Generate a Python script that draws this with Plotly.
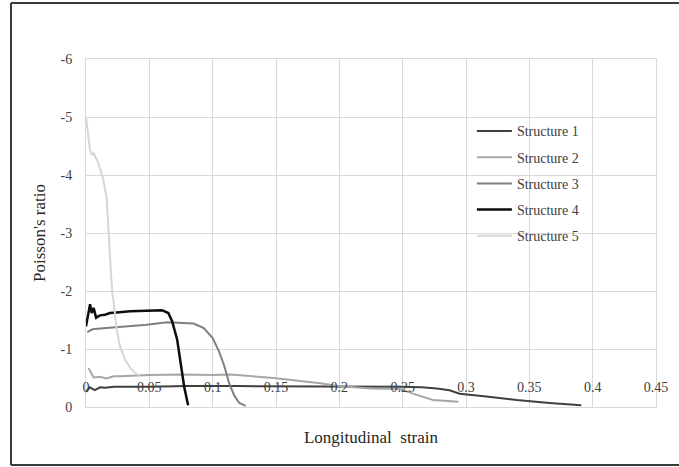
import plotly.graph_objects as go

# ---- data ----
s1_x = [0.0, 0.003, 0.007, 0.011, 0.015, 0.022, 0.05, 0.08, 0.12, 0.16, 0.2, 0.248, 0.265, 0.277, 0.287, 0.295, 0.316, 0.34, 0.366, 0.391]
s1_y = [-0.26, -0.34, -0.29, -0.34, -0.33, -0.35, -0.35, -0.36, -0.36, -0.36, -0.36, -0.35, -0.34, -0.32, -0.29, -0.23, -0.18, -0.12, -0.07, -0.03]

s2_x = [0.002, 0.006, 0.011, 0.016, 0.022, 0.027, 0.05, 0.075, 0.1, 0.114, 0.148, 0.185, 0.2, 0.224, 0.248, 0.258, 0.274, 0.294]
s2_y = [-0.67, -0.51, -0.52, -0.49, -0.53, -0.53, -0.55, -0.56, -0.55, -0.56, -0.5, -0.41, -0.36, -0.32, -0.31, -0.23, -0.12, -0.09]

s3_x = [0.001, 0.005, 0.016, 0.035, 0.048, 0.064, 0.075, 0.085, 0.093, 0.1, 0.105, 0.109, 0.113, 0.117, 0.121, 0.126]
s3_y = [-1.29, -1.34, -1.36, -1.39, -1.42, -1.46, -1.45, -1.44, -1.36, -1.19, -0.96, -0.72, -0.41, -0.2, -0.07, -0.02]

s4_x = [0.0, 0.0032, 0.0045, 0.006, 0.008, 0.011, 0.015, 0.019, 0.024, 0.035, 0.048, 0.06, 0.065, 0.068, 0.072, 0.075, 0.0775, 0.0806]
s4_y = [-1.39, -1.77, -1.62, -1.71, -1.54, -1.58, -1.59, -1.62, -1.63, -1.65, -1.66, -1.67, -1.62, -1.48, -1.16, -0.75, -0.35, -0.03]

s5_x = [0.0, 0.003, 0.0047, 0.006, 0.0095, 0.0134, 0.0163, 0.0176, 0.0197, 0.021, 0.0216, 0.0242, 0.0268, 0.031, 0.035, 0.039, 0.042]
s5_y = [-5.0, -4.45, -4.34, -4.38, -4.22, -3.95, -3.6, -3.02, -2.32, -1.9, -1.86, -1.34, -1.05, -0.81, -0.67, -0.58, -0.55]

names = ["Structure 1", "Structure 2", "Structure 3", "Structure 4", "Structure 5"]
colors = ["#404040", "#a6a6a6", "#808080", "#0d0d0d", "#d6d6d6"]
widths = [2, 2, 2, 2.5, 2]

x_ticks = [0, 0.05, 0.1, 0.15, 0.2, 0.25, 0.3, 0.35, 0.4, 0.45]
x_tick_labels = ["0", "0.05", "0.1", "0.15", "0.2", "0.25", "0.3", "0.35", "0.4", "0.45"]
y_ticks = [0, -1, -2, -3, -4, -5, -6]
y_tick_labels = ["0", "-1", "-2", "-3", "-4", "-5", "-6"]

series = [(s1_x, s1_y), (s2_x, s2_y), (s3_x, s3_y), (s4_x, s4_y), (s5_x, s5_y)]

SERIF = "Liberation Serif, Times New Roman, serif"
GRID = "#d9d9d9"

fig = go.Figure()
for i, (xs, ys) in enumerate(series):
    fig.add_trace(go.Scatter(
        x=xs, y=ys, mode="lines", name=names[i],
        line=dict(color=colors[i], width=widths[i]),
        legendgroup=f"g{i}",
        xaxis="x2" if i == 4 else "x",
        yaxis="y",
    ))

fig.update_layout(
    width=679, height=467,
    margin=dict(l=86, r=23, t=59, b=60),
    paper_bgcolor="white", plot_bgcolor="white",
    font=dict(family=SERIF, color="#404040", size=14),
    showlegend=True,
    legend=dict(
        x=0.677, y=0.838, xanchor="left", yanchor="top",
        bgcolor="rgba(0,0,0,0)", tracegroupgap=5, itemwidth=35,
        font=dict(family=SERIF, size=14, color="#404040"),
        traceorder="grouped",
    ),
    xaxis=dict(
        range=[0, 0.45], tickvals=x_ticks, showticklabels=False,
        showgrid=True, gridcolor=GRID, gridwidth=1,
        zeroline=False, showline=True, linecolor=GRID, linewidth=1, mirror=True,
        ticks="",
        title=dict(text="Longitudinal&nbsp;&nbsp;strain", font=dict(family=SERIF, size=17, color="#262626"), standoff=24),
    ),
    xaxis2=dict(
        overlaying="x", matches="x", anchor="free", position=0.085,
        range=[0, 0.45], tickvals=x_ticks, ticktext=x_tick_labels,
        showgrid=False, zeroline=False, showline=False, ticks="",
        tickfont=dict(family=SERIF, size=14, color="#404040"),
    ),
    yaxis=dict(
        range=[0, -6], tickvals=y_ticks, ticktext=y_tick_labels,
        showgrid=True, gridcolor=GRID, gridwidth=1,
        zeroline=False, showline=True, linecolor=GRID, linewidth=1, mirror=True,
        ticks="outside", ticklen=10, tickcolor="rgba(0,0,0,0)",
        tickfont=dict(family=SERIF, size=14, color="#404040"),
        title=dict(text="Poisson's ratio", font=dict(family=SERIF, size=17, color="#262626"), standoff=10),
    ),
)

# outer frame (paper-relative)
frame = dict(color="#3a3a3a", width=2)
fig.add_shape(type="line", xref="paper", yref="paper", x0=-0.1316, x1=-0.1316, y0=-0.1667, y1=1.161, line=frame)
fig.add_shape(type="line", xref="paper", yref="paper", x0=-0.1316, x1=1.05, y0=1.161, y1=1.161, line=frame)
fig.add_shape(type="line", xref="paper", yref="paper", x0=-0.1316, x1=1.05, y0=-0.1667, y1=-0.1667, line=frame)

fig.write_html("out.html", config={"displayModeBar": False},
               post_script="document.body.style.margin='0px';")
